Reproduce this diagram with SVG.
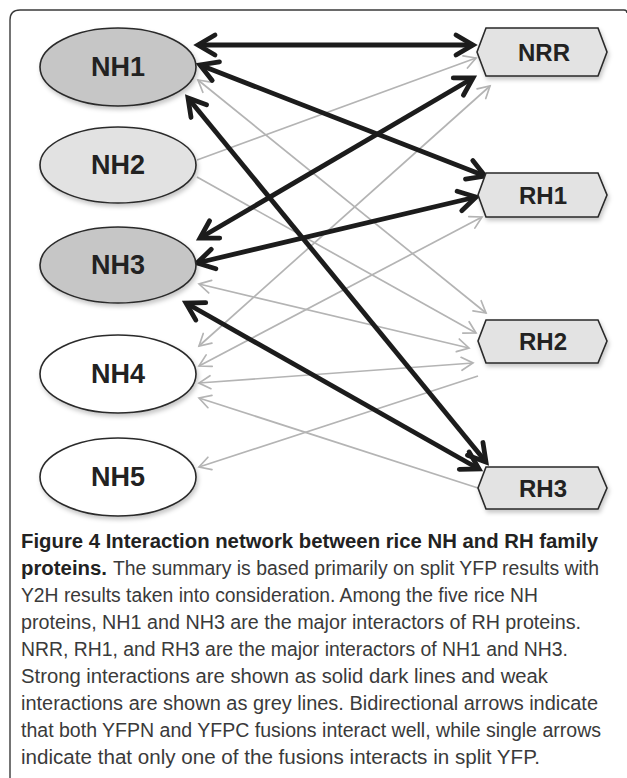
<svg xmlns="http://www.w3.org/2000/svg" width="627" height="778" viewBox="0 0 627 778">
<style>
.frame{fill:none;stroke:#3a3a3a;stroke-width:1.4}
.ell{stroke:#2a2a2a;stroke-width:1.6}
.hex{fill:#e3e3e3;stroke:#2a2a2a;stroke-width:1.6}
.nt{font-family:"Liberation Sans",Arial,sans-serif;font-weight:bold;font-size:27px;fill:#222;text-anchor:middle}
.ht{font-family:"Liberation Sans",Arial,sans-serif;font-weight:bold;font-size:24px;fill:#222;text-anchor:middle}
.strong{stroke:#1c1c1c;stroke-width:4.8;fill:none;marker-start:url(#ab);marker-end:url(#ab)}
.weak2{stroke:#b4b4b4;stroke-width:1.7;fill:none;marker-start:url(#ag);marker-end:url(#ag)}
.weak1{stroke:#b4b4b4;stroke-width:1.7;fill:none;marker-end:url(#ag)}
.cb{font-family:"Liberation Sans",Arial,sans-serif;font-weight:bold;font-size:20px;fill:#222}
.cr{font-family:"Liberation Sans",Arial,sans-serif;font-size:20px;fill:#3a3a3a}
</style>
<defs>
<marker id="ab" viewBox="0 0 24 24" refX="20" refY="12" markerWidth="24" markerHeight="24" markerUnits="userSpaceOnUse" orient="auto-start-reverse" overflow="visible">
<path d="M3,2 L20,12 L3,22" fill="none" stroke="#1c1c1c" stroke-width="4.8" stroke-linejoin="miter" stroke-linecap="round"/>
</marker>
<marker id="ag" viewBox="0 0 14 14" refX="12" refY="7" markerWidth="14" markerHeight="14" markerUnits="userSpaceOnUse" orient="auto-start-reverse" overflow="visible">
<path d="M0.5,0.5 L12,7 L0.5,13.5" fill="none" stroke="#b4b4b4" stroke-width="1.7" stroke-linecap="round"/>
</marker>
<filter id="sh" x="-20%" y="-20%" width="140%" height="150%">
<feDropShadow dx="1.5" dy="3" stdDeviation="2" flood-color="#000" flood-opacity="0.22"/>
</filter>
</defs>
<rect width="627" height="778" fill="#fff"/>
<path class="frame" d="M10,778 V20 Q10,10 20,10 H624 Q627,10 627,13"/>

<g id="connectors">
<line class="weak2" x1="198" y1="80" x2="486" y2="313"/>
<line class="weak1" x1="197" y1="160" x2="476" y2="58"/>
<line class="weak1" x1="197" y1="177" x2="476" y2="333"/>
<line class="weak2" x1="199" y1="284" x2="469" y2="348"/>
<line class="weak2" x1="199" y1="346" x2="490" y2="86"/>
<line class="weak2" x1="199" y1="366" x2="482" y2="217"/>
<line class="weak2" x1="199" y1="383" x2="473" y2="363"/>
<line class="weak1" x1="478" y1="488" x2="199" y2="398"/>
<line class="weak1" x1="478" y1="376" x2="199" y2="467"/>
<line class="strong" x1="198" y1="45" x2="473" y2="45"/>
<line class="strong" x1="200" y1="65" x2="485" y2="176"/>
<line class="strong" x1="188" y1="98" x2="486" y2="462"/>
<line class="strong" x1="200" y1="238" x2="473" y2="78"/>
<line class="strong" x1="197" y1="263" x2="476" y2="197"/>
<line class="strong" x1="186" y1="303" x2="479" y2="469"/>
</g>

<g id="NH1"><ellipse class="ell" cx="118" cy="67" rx="78" ry="39" fill="#c6c6c6" filter="url(#sh)"/><text class="nt" x="118" y="76">NH1</text></g>
<g id="NH2"><ellipse class="ell" cx="118" cy="165" rx="78" ry="38" fill="#e2e2e2" filter="url(#sh)"/><text class="nt" x="118" y="174">NH2</text></g>
<g id="NH3"><ellipse class="ell" cx="118" cy="265" rx="78" ry="38" fill="#c6c6c6" filter="url(#sh)"/><text class="nt" x="118" y="274">NH3</text></g>
<g id="NH4"><ellipse class="ell" cx="118" cy="374" rx="78" ry="39" fill="#fff" filter="url(#sh)"/><text class="nt" x="118" y="383">NH4</text></g>
<g id="NH5"><ellipse class="ell" cx="118" cy="477" rx="78" ry="39" fill="#fff" filter="url(#sh)"/><text class="nt" x="118" y="486">NH5</text></g>

<g id="NRR"><polygon class="hex" points="477,52 486,28 598,28 607,52 598,76 486,76" filter="url(#sh)"/><text class="ht" x="544" y="61">NRR</text></g>
<g id="RH1"><polygon class="hex" points="478,195 486,173 598,173 607,195 598,217 486,217" filter="url(#sh)"/><text class="ht" x="543" y="204">RH1</text></g>
<g id="RH2"><polygon class="hex" points="478,341 486,320 598,320 607,341 598,363 486,363" filter="url(#sh)"/><text class="ht" x="543" y="350">RH2</text></g>
<g id="RH3"><polygon class="hex" points="478,488 486,467 598,467 607,488 598,509 486,509" filter="url(#sh)"/><text class="ht" x="543" y="497">RH3</text></g>

<g id="caption">
<text class="cb" x="21" y="548" textLength="577" lengthAdjust="spacingAndGlyphs">Figure 4 Interaction network between rice NH and RH family</text>
<text class="cb" x="21" y="575" textLength="86" lengthAdjust="spacingAndGlyphs">proteins.</text>
<text class="cr" x="113" y="575" textLength="486" lengthAdjust="spacingAndGlyphs">The summary is based primarily on split YFP results with</text>
<text class="cr" x="21" y="602" textLength="517" lengthAdjust="spacingAndGlyphs">Y2H results taken into consideration. Among the five rice NH</text>
<text class="cr" x="21" y="629" textLength="560" lengthAdjust="spacingAndGlyphs">proteins, NH1 and NH3 are the major interactors of RH proteins.</text>
<text class="cr" x="21" y="656" textLength="547" lengthAdjust="spacingAndGlyphs">NRR, RH1, and RH3 are the major interactors of NH1 and NH3.</text>
<text class="cr" x="21" y="683" textLength="527" lengthAdjust="spacingAndGlyphs">Strong interactions are shown as solid dark lines and weak</text>
<text class="cr" x="21" y="710" textLength="577" lengthAdjust="spacingAndGlyphs">interactions are shown as grey lines. Bidirectional arrows indicate</text>
<text class="cr" x="21" y="737" textLength="580" lengthAdjust="spacingAndGlyphs">that both YFPN and YFPC fusions interact well, while single arrows</text>
<text class="cr" x="21" y="764" textLength="519" lengthAdjust="spacingAndGlyphs">indicate that only one of the fusions interacts in split YFP.</text>
</g>
</svg>
